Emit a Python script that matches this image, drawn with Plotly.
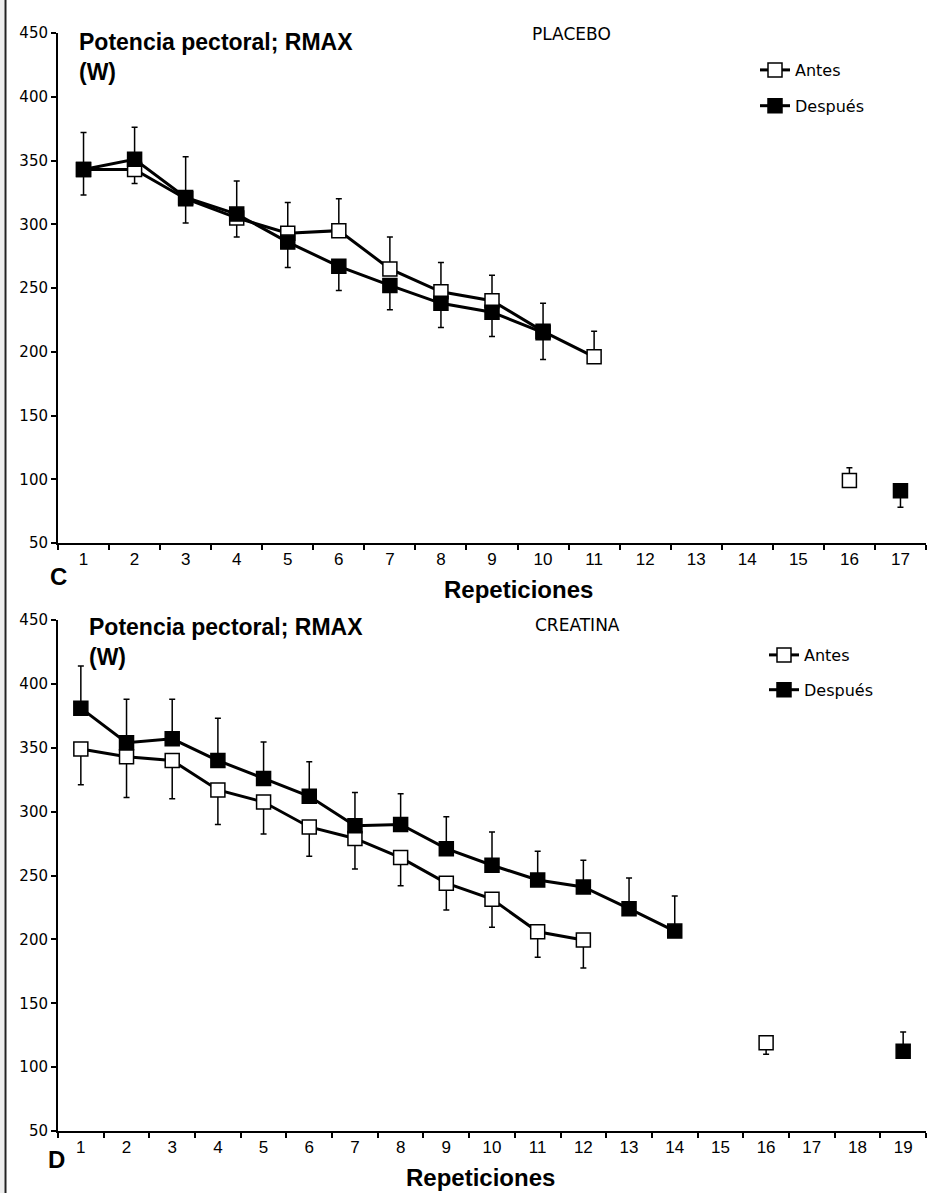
import plotly.graph_objects as go

W, H = 936, 1193

# ---------------- data ----------------
reps_c = [str(i) for i in range(1, 18)]
antes_c = [343, 343, 320, 305, 293, 295, 265, 247, 240, 216, 196, None, None, None, None, 99, None]
antes_c_up = [0, 0, 0, 0, 24, 25, 25, 23, 20, 22, 20, 0, 0, 0, 0, 10, 0]
antes_c_down = [20, 11, 19, 15, 0, 0, 0, 0, 0, 0, 0, 0, 0, 0, 0, 0, 0]
despues_c = [343, 351, 321, 308, 286, 267, 252, 238, 231, 215, None, None, None, None, None, None, 91]
despues_c_up = [29, 25, 32, 26, 0, 0, 0, 0, 0, 0, 0, 0, 0, 0, 0, 0, 0]
despues_c_down = [0, 0, 0, 0, 20, 19, 19, 19, 19, 21, 0, 0, 0, 0, 0, 0, 13]

reps_d = [str(i) for i in range(1, 20)]
antes_d = [349, 343, 340, 317, 307.5, 288, 279, 264, 244, 231.5, 206, 199.5,
           None, None, None, 119, None, None, None]
antes_d_up = [0] * 19
antes_d_down = [28, 32, 30, 27, 25, 23, 24, 22, 21, 22, 20, 22, 0, 0, 0, 9, 0, 0, 0]
despues_d = [381, 354, 357, 340, 326, 312, 289, 290, 271, 258, 246.5, 241, 224, 206.5,
             None, None, None, None, 112.5]
despues_d_up = [33, 34, 31, 33, 28.5, 27, 26, 24, 25, 26, 22.5, 21, 24, 27.5, 0, 0, 0, 0, 15]
despues_d_down = [0] * 19

y_ticks = [50, 100, 150, 200, 250, 300, 350, 400, 450]

# ---------------- helpers ----------------
def px(x):
    return x / W

def py(y):
    return 1 - y / H

fig = go.Figure()

def add_series(x, y, up, down, filled, name, xa, ya, legend, group):
    fig.add_trace(go.Scatter(
        x=x, y=y, mode='lines+markers', name=name,
        line=dict(color='black', width=3),
        marker=dict(symbol='square', size=14,
                    color='black' if filled else 'white',
                    line=dict(color='black', width=1.5)),
        error_y=dict(type='data', symmetric=False, array=up, arrayminus=down,
                     color='black', thickness=1.5, width=3),
        connectgaps=False, xaxis=xa, yaxis=ya, legend=legend,
        legendgroup=group, hoverinfo='x+y'))

add_series(reps_c, antes_c, antes_c_up, antes_c_down, False, 'Antes', 'x', 'y', 'legend', 'c1')
add_series(reps_c, despues_c, despues_c_up, despues_c_down, True, 'Después', 'x', 'y', 'legend', 'c2')
add_series(reps_d, antes_d, antes_d_up, antes_d_down, False, 'Antes', 'x2', 'y2', 'legend2', 'd1')
add_series(reps_d, despues_d, despues_d_up, despues_d_down, True, 'Después', 'x2', 'y2', 'legend2', 'd2')

xcommon = dict(type='category', tickson='boundaries', ticks='outside', ticklen=5,
               tickwidth=1.5, tickcolor='black', showline=True, linecolor='black',
               linewidth=2, showgrid=False, zeroline=False, automargin=False,
               tickfont=dict(family='Liberation Sans, Arial', size=17, color='black'),
               domain=[px(58), px(926)], fixedrange=True)
ycommon = dict(range=[50, 450], tickvals=y_ticks, ticks='outside', ticklen=5,
               tickwidth=1.5, tickcolor='black', showline=True, linecolor='black',
               linewidth=2, showgrid=False, zeroline=False, automargin=False,
               tickfont=dict(family='DejaVu Sans', size=15, color='black'),
               fixedrange=True)

fig.update_layout(
    width=W, height=H,
    margin=dict(l=0, r=0, t=0, b=0, autoexpand=False),
    paper_bgcolor='white', plot_bgcolor='white',
    font=dict(family='Liberation Sans, Arial', color='black'),
    xaxis=dict(xcommon, anchor='y', categoryorder='array', categoryarray=reps_c,
               range=[-0.5, len(reps_c) - 0.5]),
    yaxis=dict(ycommon, anchor='x', domain=[py(543), py(33)]),
    xaxis2=dict(xcommon, anchor='y2', categoryorder='array', categoryarray=reps_d,
                range=[-0.5, len(reps_d) - 0.5]),
    yaxis2=dict(ycommon, anchor='x2', domain=[py(1131), py(620)]),
    legend=dict(x=px(755), y=py(53), xanchor='left', yanchor='top',
                bgcolor='rgba(0,0,0,0)', tracegroupgap=12, itemwidth=30,
                font=dict(family='DejaVu Sans', size=16, color='black')),
    legend2=dict(x=px(764), y=py(638), xanchor='left', yanchor='top',
                 bgcolor='rgba(0,0,0,0)', tracegroupgap=11, itemwidth=30,
                 font=dict(family='DejaVu Sans', size=16, color='black')),
    showlegend=True,
)

title_font = dict(family='Liberation Sans, Arial', size=23, color='black', weight='bold')
label_font = dict(family='Liberation Sans, Arial', size=24, color='black', weight='bold')
group_font = dict(family='DejaVu Sans', size=17, color='black')

annotations = [
    dict(text='Potencia pectoral; RMAX<br>(W)', x=px(77), y=py(27), xanchor='left',
         yanchor='top', align='left', font=title_font),
    dict(text='Potencia pectoral; RMAX<br>(W)', x=px(87), y=py(612), xanchor='left',
         yanchor='top', align='left', font=title_font),
    dict(text='PLACEBO', x=px(571), y=py(34), xanchor='center', yanchor='middle', font=group_font),
    dict(text='CREATINA', x=px(577), y=py(625), xanchor='center', yanchor='middle', font=group_font),
    dict(text='C', x=px(58), y=py(577), xanchor='center', yanchor='middle', font=label_font),
    dict(text='D', x=px(56), y=py(1159), xanchor='center', yanchor='middle', font=label_font),
    dict(text='Repeticiones', x=px(518), y=py(589), xanchor='center', yanchor='middle', font=label_font),
    dict(text='Repeticiones', x=px(481), y=py(1177), xanchor='center', yanchor='middle', font=label_font),
]
for a in annotations:
    a.update(xref='paper', yref='paper', showarrow=False)
fig.update_layout(annotations=annotations)

fig.update_layout(shapes=[
    dict(type='rect', xref='paper', yref='paper', x0=0, x1=px(4.5), y0=0, y1=1,
         fillcolor='#eeeeee', line=dict(width=0), layer='below'),
    dict(type='line', xref='paper', yref='paper', x0=px(5.5), x1=px(5.5), y0=0, y1=1,
         line=dict(color='#222222', width=2)),
])

fig.write_html('out.html', config={'displayModeBar': False},
               post_script="document.body.style.margin='0';document.body.style.overflow='hidden';")
